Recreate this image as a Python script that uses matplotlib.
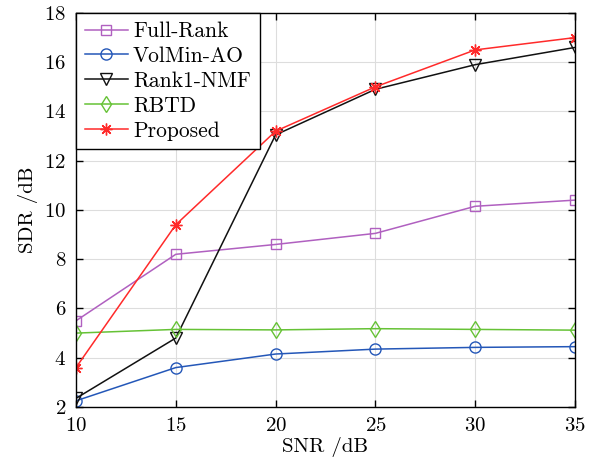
import matplotlib
matplotlib.use("Agg")
import matplotlib.pyplot as plt

snr = [10, 15, 20, 25, 30, 35]
full_rank = [5.5, 8.2, 8.6, 9.05, 10.15, 10.4]
volmin_ao = [2.25, 3.6, 4.15, 4.35, 4.42, 4.45]
rank1_nmf = [2.35, 4.8, 13.05, 14.9, 15.9, 16.6]
rbtd = [5.0, 5.15, 5.13, 5.18, 5.15, 5.12]
proposed = [3.6, 9.4, 13.2, 15.0, 16.5, 17.0]

plt.rcParams['font.family'] = ['cmr10', 'DejaVu Serif']
plt.rcParams['mathtext.fontset'] = 'cm'
plt.rcParams['axes.formatter.use_mathtext'] = True

fig = plt.figure(figsize=(5.96, 4.63), dpi=100)
ax = fig.add_axes([0.1275, 0.121, 0.8373, 0.851])

ax.plot(snr, full_rank, color='#b060c0', marker='s', ms=6.5, mfc='none', lw=1.1, label='Full-Rank')
ax.plot(snr, volmin_ao, color='#2457b8', marker='o', ms=8, mfc='none', lw=1.1, label='VolMin-AO')
ax.plot(snr, rank1_nmf, color='#111111', marker='v', ms=8.5, mfc='none', lw=1.1, label='Rank1-NMF')
ax.plot(snr, rbtd, color='#66c236', marker='d', ms=8.5, mfc='none', lw=1.1, label='RBTD')
ax.plot(snr, proposed, color='#ff2a2a', marker=(8, 2, 0), ms=8.5, mew=1.0, lw=1.1, label='Proposed')

ax.set_xlim(10, 35)
ax.set_ylim(2, 18)
ax.set_xticks(snr)
ax.set_yticks(range(2, 19, 2))
ax.grid(True, color='#dddddd', lw=0.8)
ax.set_axisbelow(True)
ax.tick_params(direction='in', top=True, right=True, labelsize=15, length=5, width=1, pad=7)
for s in ax.spines.values():
    s.set_linewidth(1.0)
ax.set_xlabel('SNR /dB', fontsize=15, labelpad=2)
ax.set_ylabel('SDR /dB', fontsize=15, labelpad=4)

leg = ax.legend(loc='upper left', fontsize=15.5, fancybox=False, edgecolor='black',
                framealpha=1, borderaxespad=0, handlelength=2.0, labelspacing=0.25,
                borderpad=0.4, handletextpad=0.25)
leg.get_frame().set_linewidth(1.0)

fig.savefig('out.png', dpi=100)
